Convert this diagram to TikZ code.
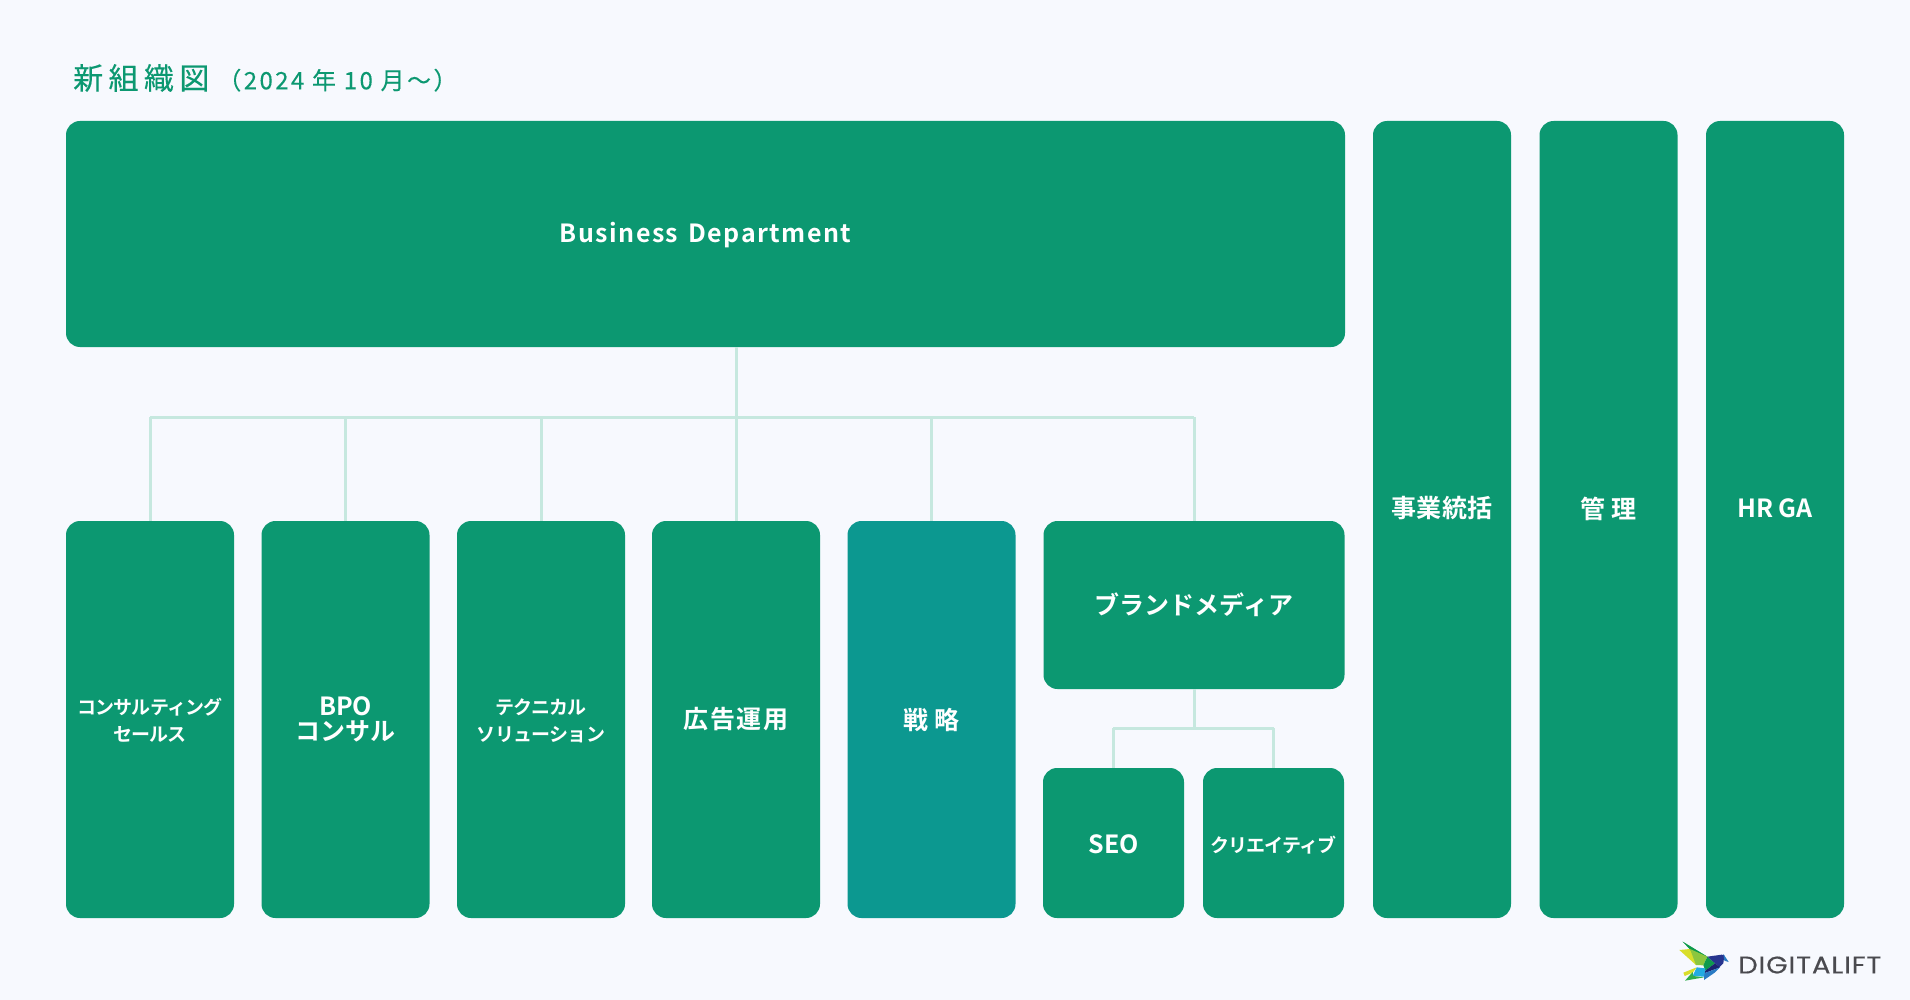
\documentclass[tikz,border=0pt]{standalone}
\usepackage{fontspec}
\setmainfont{Noto Sans CJK JP}[BoldFont={Noto Sans CJK JP Bold}]
\newfontfamily\titlefont{Noto Sans CJK JP}[FakeBold=0.25]
\newfontfamily\logofont{Poppins}[FakeStretch=1.15,LetterSpace=3.5,FakeBold=0.3]
\newcommand{\nudge}[2]{\raisebox{#1}[\height][\depth]{#2}}
\newcommand{\twolines}[2]{\begin{tabular}{@{}c@{}}#1\\#2\end{tabular}}
\definecolor{pagebg}{HTML}{F7F9FE}
\definecolor{deptgreen}{HTML}{0C9871}
\definecolor{deptteal}{HTML}{0C9890}
\definecolor{linkgreen}{HTML}{C6E8DF}
\definecolor{logoink}{HTML}{4A4A4F}
\definecolor{logoleaf}{HTML}{2FAE4A}
\definecolor{logolime}{HTML}{8CC63F}
\definecolor{logoyellow}{HTML}{D9DE2B}
\definecolor{logoforest}{HTML}{0E9A4E}
\definecolor{logonavy}{HTML}{27358F}
\definecolor{logodeep}{HTML}{1B2470}
\definecolor{logosky}{HTML}{22ABE2}
\definecolor{logoblue}{HTML}{2A7BC4}
\begin{document}
\begin{tikzpicture}[
x=1pt,y=-1pt,
dept/.style={
fill=deptgreen,
text=white,
rounded corners=14pt,
align=center,
font=\bfseries\fontsize{25}{25}\selectfont,
inner sep=0pt
},
smalltext/.style={
font=\bfseries\fontsize{19}{27}\selectfont\addfontfeature{LetterSpace=-4}
},
link/.style={
draw=linkgreen,
line width=3pt
}
]

\fill[pagebg] (0,0) rectangle (1910,1000);
\useasboundingbox (0,0) rectangle (1910,1000);

\node[anchor=west,text=deptgreen,inner sep=0pt,font=\titlefont\fontsize{30}{34}\selectfont] (title) at (73,78) {{\addfontfeature{LetterSpace=18}新組織図}\hspace{8pt}{\fontsize{24}{28}\selectfont\addfontfeature{LetterSpace=10}（2024 年 10 月～）}};

% rails
\coordinate (rail) at (736,417);
\coordinate (subrail) at (1194,728);

\draw[link] (150,417) -- (1194,417);
\draw[link] (1113,728) -- (1274,728);

\node[dept,minimum width=1279pt,minimum height=226pt] (B) at (705.5,234) {\nudge{-1pt}{\addfontfeature{LetterSpace=6}Business\hspace{3pt} Department}};

\node[dept,smalltext,minimum width=168pt,minimum height=397pt] (C) at (150,719.5) {\nudge{-3.5pt}{\twolines{コンサルティング}{セールス}}};
\node[dept,minimum width=168pt,minimum height=397pt] (O) at (345.5,719.5) {BPO\\コンサル};
\node[dept,smalltext,minimum width=168pt,minimum height=397pt] (T) at (541,719.5) {\nudge{-3.5pt}{\twolines{テクニカル}{ソリューション}}};
\node[dept,minimum width=168pt,minimum height=397pt] (A) at (736,719.5) {\addfontfeature{LetterSpace=7}広告運用};
\node[dept,fill=deptteal,minimum width=168pt,minimum height=397pt] (S) at (931.5,719.5) {戦 略};
\node[dept,minimum width=301pt,minimum height=168pt] (M) at (1194,605) {ブランドメディア};
\node[dept,minimum width=141pt,minimum height=150pt] (E) at (1113.5,843) {\nudge{-1.5pt}{SEO}};
\node[dept,smalltext,minimum width=141pt,minimum height=150pt] (R) at (1273.5,843) {\nudge{-2pt}{クリエイティブ}};

\node[dept,minimum width=138pt,minimum height=797pt] (J) at (1442,519.5) {\nudge{11pt}{\addfontfeature{LetterSpace=1}事業統括}};
\node[dept,minimum width=138pt,minimum height=797pt] (K) at (1608.5,519.5) {\nudge{11pt}{管 理}};
\node[dept,minimum width=138pt,minimum height=797pt] (H) at (1775,519.5) {\nudge{11pt}{HR GA}};

\draw[link] (B.south -| A.north) -- (rail);
\draw[link] (C.north) -- (C.north |- rail);
\draw[link] (O.north) -- (O.north |- rail);
\draw[link] (T.north) -- (T.north |- rail);
\draw[link] (A.north) -- (rail);
\draw[link] (S.north) -- (S.north |- rail);
\draw[link] (M.north) -- (M.north |- rail);
\draw[link] (M.south) -- (subrail);
\draw[link] (E.north) -- (E.north |- subrail);
\draw[link] (R.north) -- (R.north |- subrail);

% logo
\begin{scope}[shift={(1670,930)},x=0.3333pt,y=-0.3333pt]
\fill[logoyellow] (28,60) -- (60,57) -- (80,80) -- (78,105) -- cycle;
\fill[logoleaf] (38,35) -- (112,80) -- (60,57) -- cycle;
\fill[logoforest] (38,35) -- (112,80) -- (80,80) -- cycle;
\fill[logolime] (60,57) -- (112,80) -- (100,106) -- (78,105) -- cycle;
\fill[logoforest] (112,80) -- (135,100) -- (106,122) -- (100,106) -- cycle;
\fill[logonavy] (112,80) -- (155,74) -- (163,76) -- (160,100) -- (148,112) -- (135,100) -- cycle;
\fill[logoblue] (160,72) -- (176,96) -- (163,92) -- cycle;
\fill[logodeep] (106,122) -- (135,100) -- (150,112) -- (102,130) -- cycle;
\fill[logoblue] (102,130) -- (150,112) -- (134,128) -- (102,150) -- cycle;
\fill[logosky] (80,112) -- (106,115) -- (102,140) -- (68,138) -- cycle;
\fill[logoyellow] (40,128) -- (80,112) -- (68,128) -- (44,138) -- cycle;
\fill[logoleaf] (45,152) -- (68,126) -- (70,138) -- (102,142) -- cycle;
\end{scope}
\node[anchor=west,inner sep=0pt,text=logoink,font=\logofont\fontsize{24}{26}\selectfont] (logo) at (1738,965) {DIGITALIFT};

\end{tikzpicture}
\end{document}
